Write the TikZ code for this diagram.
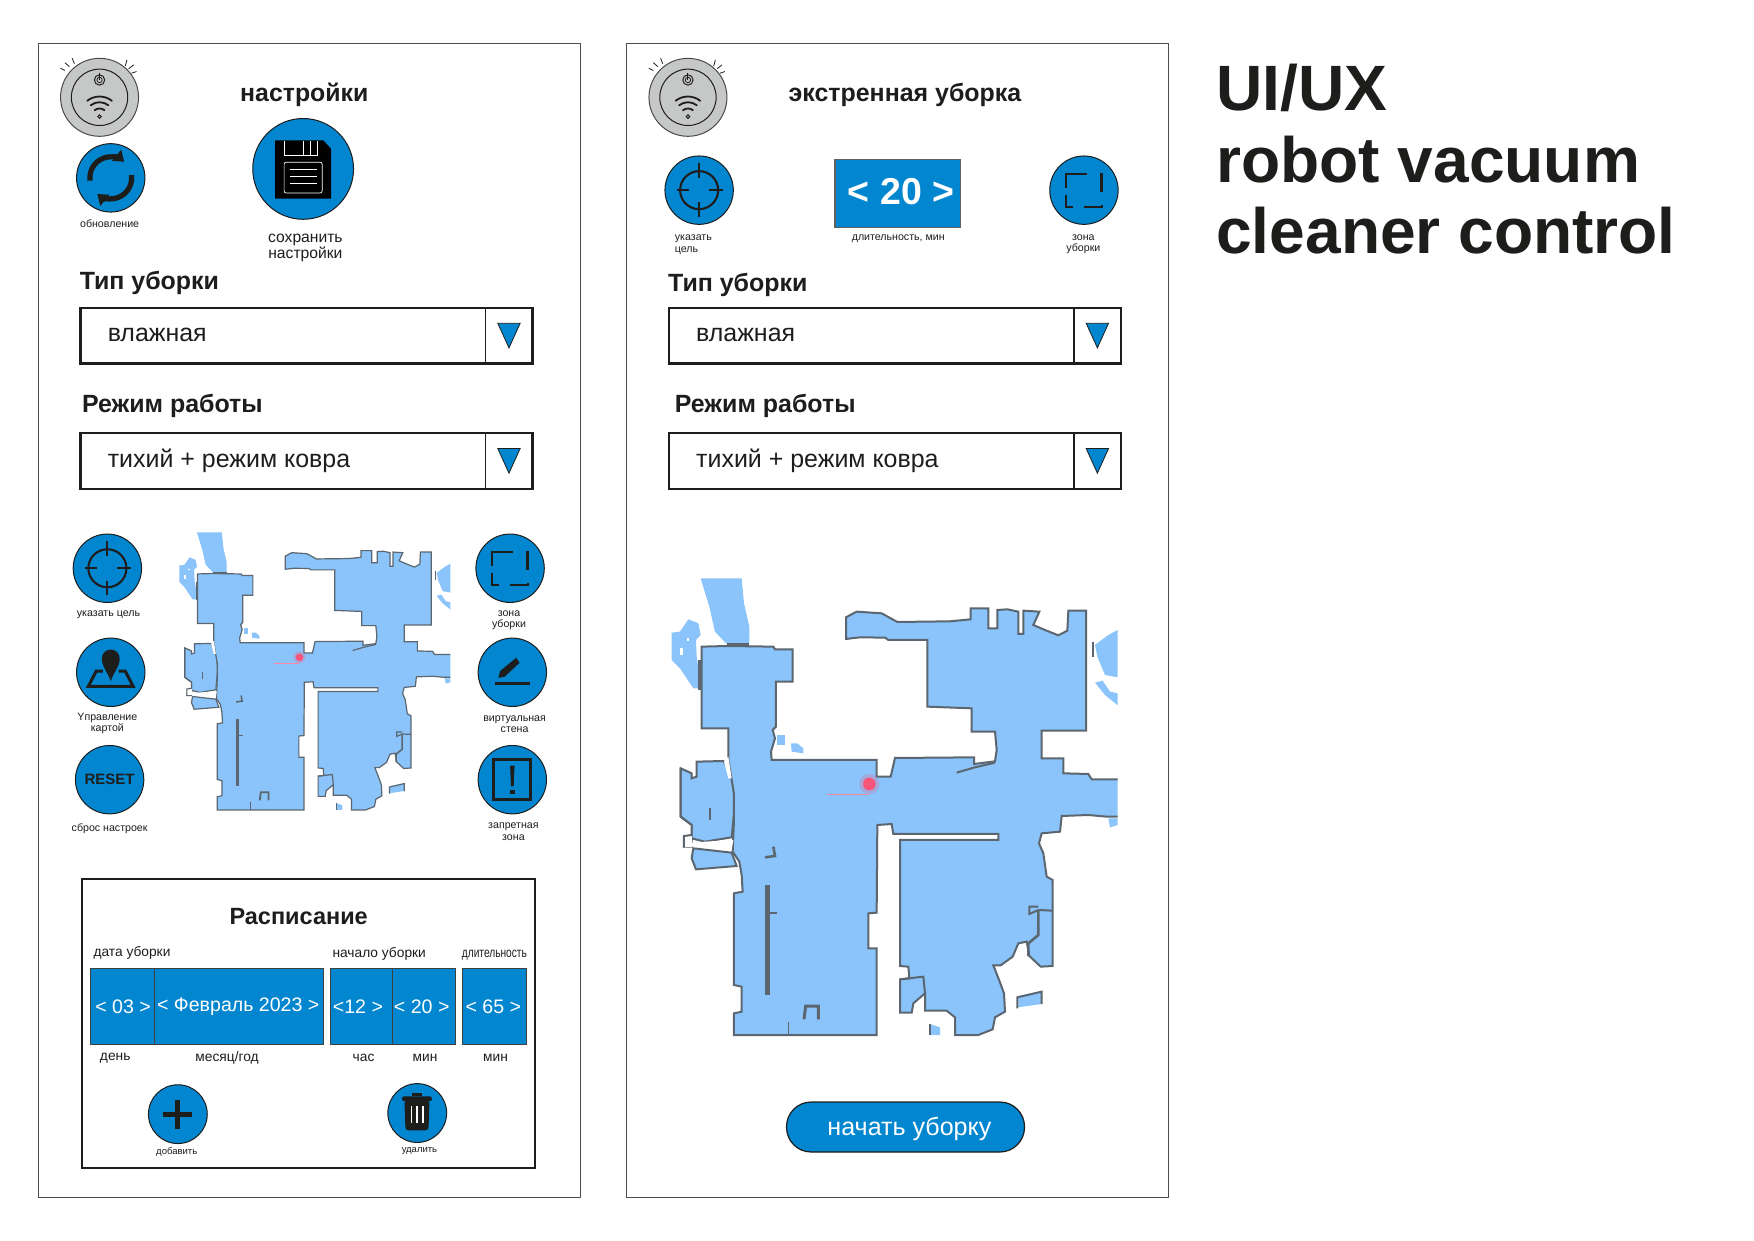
\documentclass[tikz,border=0pt]{standalone}
\usepackage{fontspec}
\usepackage{graphicx}
\setmainfont{Liberation Sans}
\usetikzlibrary{arrows.meta}
\definecolor{uiblue}{HTML}{0386D0}
\definecolor{ink}{HTML}{1D1D1B}
\definecolor{mapblue}{HTML}{8AC4FA}
\definecolor{mapwall}{HTML}{5B6670}
\definecolor{robogray}{HTML}{C6C8C8}
\definecolor{pinkdot}{HTML}{F8557A}
\newcommand\fsz[1]{\fontsize{\fpeval{#1*0.5594}}{\fpeval{#1*0.5594*1.07}}\selectfont}
\tikzset{
  ttl/.style={inner sep=0pt,text=ink,anchor=base west,font={\fsz{57.3}\bfseries}},
  lbl/.style={inner sep=0pt,text=ink,align=center,yshift=-0.9pt},
  small/.style={lbl,font={\fsz{9.5}}},
  mid/.style={lbl,font={\fsz{12.3}}},
  head/.style={lbl,anchor=west,font={\fsz{22.3}\bfseries}},
  val/.style={lbl,anchor=west,font={\fsz{22.3}}},
  spintxt/.style={lbl,text=white,font={\fsz{17.5}}},
  btn/.style={circle,draw=ink,fill=uiblue,line width=0.5pt,inner sep=0pt,minimum size=34.2pt},
  btnsmall/.style={btn,minimum size=29.4pt},
  btnbig/.style={btn,minimum size=50.4pt},
  robot/.style={circle,draw=ink!80,fill=robogray,line width=0.5pt,inner sep=0pt,minimum size=39pt},
  screen/.style={draw=black!70,fill=white,line width=0.7pt},
  ddbox/.style={draw=ink,fill=white,line width=1.1pt},
  spin/.style={draw=ink!85,fill=uiblue,line width=0.5pt,inner sep=0pt},
}
% icons ---------------------------------------------------------
\newcommand\iconrobot[1]{%
 \begin{scope}[shift={(#1.center)}]
  \draw[ink,line width=0.5pt] (0,0) circle[radius=25.2];
  \draw[ink,line width=0.5pt] (0,-15.5) circle[radius=4.6];
  \draw[ink,line width=0.4pt] (0,-15.5) circle[radius=2.4];
  \draw[ink,line width=0.5pt] (0,-22) -- (0,-15.5);
  \foreach \r in {17.9,12.8,7.2}{
    \draw[ink,line width=0.9pt,line cap=round] ([shift={(0,17.2)}]232:\r) arc[start angle=232,end angle=308,radius=\r];
  }
  \draw[ink,line width=0.5pt] (0,17.2) circle[radius=1.6];
  \draw[ink,line width=0.4pt] (-22.5,-30) -- (-24.5,-35);
  \draw[ink,line width=0.4pt] (-27,-27.5) -- (-31,-31);
  \draw[ink,line width=0.4pt] (-31,-24) -- (-35,-26);
  \draw[ink,line width=0.4pt] (23,-28) -- (24.5,-33.5);
  \draw[ink,line width=0.4pt] (26,-25.5) -- (30.5,-29);
  \draw[ink,line width=0.4pt] (28.5,-21.5) -- (33,-23);
 \end{scope}}
\newcommand\icontarget[1]{%
 \begin{scope}[shift={(#1.center)},ink,line width=1.05pt]
  \draw (0,0) circle[radius=17];
  \draw (0,-24) -- (0,-11); \draw (0,24) -- (0,11);
  \draw (-20,0) -- (-9,0); \draw (21,0) -- (9,0);
 \end{scope}}
\newcommand\iconzone[1]{%
 \begin{scope}[shift={(#1.center)},ink,line width=1.3pt]
  \draw (-16,-2) -- (-16,-14.5) -- (3,-14.5);
  \draw (15.5,-15) -- (15.5,2);
  \draw (-16,4) -- (-16,15) -- (-10,15);
  \draw (0,15) -- (16,15) -- (16,13);
 \end{scope}}
\newcommand\iconmap[1]{%
 \begin{scope}[shift={(#1.center)}]
  \draw[ink,line width=1.5pt,miter limit=4] (-7,-1) -- (-13,-1) -- (-20,12.5) -- (20,12.5) -- (13,-1) -- (7,-1);
  \fill[ink] (0,8) .. controls (-2,1) and (-8,-5) .. (-8,-12) .. controls (-8,-23) and (8,-23) .. (8,-12) .. controls (8,-5) and (2,1) .. (0,8) -- cycle;
 \end{scope}}
\newcommand\iconwall[1]{%
 \begin{scope}[shift={(#1.center)}]
  \fill[ink] (-15.5,8.5) rectangle (15.5,11.5);
  \fill[ink] (-12.5,5) -- (-11,-1) -- (3.5,-13) -- (6.5,-8.5) -- (-7,4) -- cycle;
 \end{scope}}
\newcommand\iconforbid[1]{%
 \begin{scope}[shift={(#1.center)}]
  \draw[ink,line width=1.5pt] (-16.5,-18) rectangle (16.5,18);
  \fill[ink] (-2,-12.5) -- (2,-12.5) -- (1.2,6) -- (-1.2,6) -- cycle;
  \fill[ink] (-2,9) rectangle (2,12.5);
 \end{scope}}
\newcommand\iconrefresh[1]{%
 \begin{scope}[shift={(#1.center)},ink,line width=2.6pt]
  \draw[-{Triangle[length=5pt,width=7pt]}] (-18.5,2.5) arc[start angle=172,end angle=310,radius=18.7];
  \draw[-{Triangle[length=5pt,width=7pt]}] (18.5,-2.5) arc[start angle=-8,end angle=130,radius=18.7];
 \end{scope}}
\newcommand\iconsave[1]{%
 \begin{scope}[shift={(#1.center)}]
  \fill[black] (-25,-25.5) -- (18,-25.5) -- (25,-18) -- (25,26.5) -- (-25,26.5) -- cycle;
  \begin{scope}[white,line width=0.35pt]
   \draw (-17,-25) -- (-17,-12) -- (13,-12) -- (13,-25);
   \draw (0,-25) -- (0,-12); \draw (6,-25) -- (6,-12);
   \draw[rounded corners=1pt] (-17,-6) rectangle (17,21.5);
   \draw (-12,0) -- (12,0); \draw (-12,6.5) -- (12,6.5); \draw (-12,13) -- (12,13);
  \end{scope}
 \end{scope}}
\newcommand\iconplus[1]{%
 \begin{scope}[shift={(#1.center)}]
  \fill[ink] (-13,-2.3) rectangle (13,2.3);
  \fill[ink] (-2.3,-13) rectangle (2.3,13);
 \end{scope}}
\newcommand\icontrash[1]{%
 \begin{scope}[shift={(#1.center)}]
  \fill[ink,rounded corners=1pt] (-13.5,-15) rectangle (13,-10.5);
  \fill[ink] (-4.5,-15) rectangle (4.5,-17.5);
  \fill[ink,rounded corners=1.5pt] (-11.5,-11) -- (11,-11) -- (10,15.5) -- (-10.5,15.5) -- cycle;
  \foreach \x in {-5.2,0,5.2}{\draw[white,line width=0.8pt] (\x,-6) -- (\x,9);}
 \end{scope}}
% map -----------------------------------------------------------
\newcommand\mapdrawing[4]{% ox, oy, unit in pt, wall width
 \begin{scope}[shift={(#1,#2)},x=#3,y=-#3]
 \clip (33,55) rectangle (1373,1432);
 % islands
 \fill[mapblue] (122,55) -- (245,55) -- (252,130) -- (268,200) -- (268,250) -- (198,250) -- (165,215) -- (148,140) -- cycle;
 \fill[mapblue] (35,218) -- (60,215) -- (85,178) -- (115,190) -- (122,225) -- (108,240) -- (110,290) -- (125,385) -- (100,385) -- (60,325) -- (35,300) -- cycle;
 \fill[mapblue] (1305,255) -- (1345,225) -- (1373,210) -- (1373,352) -- (1335,345) -- (1312,290) -- cycle;
 \fill[mapblue] (1305,368) -- (1328,362) -- (1350,395) -- (1373,400) -- (1373,436) -- (1335,405) -- cycle;
 \fill[mapblue] (352,525) rectangle (375,555);
 \fill[mapblue] (393,550) -- (412,550) -- (430,565) -- (430,580) -- (395,575) -- cycle;
 \fill[mapblue] (1075,1308) -- (1145,1293) -- (1145,1332) -- (1075,1342) -- cycle;
 \fill[mapblue] (810,1392) -- (840,1402) -- (840,1425) -- (810,1425) -- cycle;
 \fill[mapblue] (1345,775) -- (1373,775) -- (1373,795) -- (1350,802) -- cycle;
 \fill[white] (60,265) rectangle (68,285);
 \fill[white] (80,235) rectangle (86,242);
 % left rooms
 \filldraw[fill=mapblue,draw=mapwall,line width=#4] (62,625) -- (95,640) -- (95,655) -- (110,650) -- (110,605) -- (190,603) -- (215,640) -- (225,730) -- (215,832) -- (135,845) -- (75,830) -- (72,860) -- (95,860) -- (95,795) -- (62,770) -- cycle;
 \fill[white] (95,795) rectangle (72,860);
 \draw[mapwall,line width=#4] (62,625) -- (62,770) -- (95,795) -- (95,825) -- (72,828) -- (72,862);
 \draw[mapwall,line width=0.6*#4] (150,745) -- (150,780);
 \filldraw[fill=mapblue,draw=mapwall,line width=#4] (100,865) -- (215,878) -- (230,918) -- (108,928) -- (95,895) -- cycle;
 % main floor
 \filldraw[fill=mapblue,draw=mapwall,line width=#4,line join=miter]
  (125,260) -- (200,258) -- (340,260) -- (345,268) -- (398,268) -- (398,365) -- (348,365) -- (348,500) -- (338,510) -- (345,535) -- (333,575) -- (335,600) -- (650,600) -- (650,650) -- (692,650) -- (705,594) -- (942,592) -- (942,612) -- (1005,604) -- (1010,570) -- (1005,515) -- (935,515) -- (935,445) -- (802,440) -- (802,240) -- (685,240) -- (675,233) -- (600,232) -- (558,237) -- (558,172) -- (590,155) -- (665,160) -- (712,186) -- (870,184) -- (932,178) -- (932,145) -- (985,145) -- (985,205) -- (1012,205) -- (1012,150) -- (1042,148) -- (1075,155) -- (1075,222) -- (1090,222) -- (1090,152) -- (1138,155) -- (1120,195) -- (1150,208) -- (1195,226) -- (1222,212) -- (1225,152) -- (1278,152) -- (1278,512) -- (1145,512) -- (1145,595) -- (1210,595) -- (1210,640) -- (1285,642) -- (1295,658) -- (1395,658) -- (1395,770) -- (1340,770) -- (1285,765) -- (1205,768) -- (1200,815) -- (1145,820) -- (1137,850) -- (1150,880) -- (1160,950) -- (1178,960) -- (1178,1218) -- (1142,1220) -- (1108,1188) -- (1100,1145) -- (1075,1150) -- (1058,1190) -- (1022,1216) -- (1000,1216) -- (1018,1262) -- (1032,1300) -- (1035,1355) -- (1005,1372) -- (998,1408) -- (955,1425) -- (885,1425) -- (885,1372) -- (860,1352) -- (795,1352) -- (795,1300) -- (760,1330) -- (755,1358) -- (720,1358) -- (720,1258) -- (748,1255) -- (745,1220) -- (720,1218) -- (720,840) -- (1015,840) -- (1015,822) -- (700,822) -- (695,792) -- (652,795) -- (650,1058) -- (625,1060) -- (625,1165) -- (650,1165) -- (650,1425) -- (222,1425) -- (222,1360) -- (245,1355) -- (245,1280) -- (222,1275) -- (222,1000) -- (248,995) -- (245,945) -- (238,905) -- (218,875) -- (222,780) -- (222,700) -- (205,600) -- (205,505) -- (125,505) -- cycle;
 % white notches and interior walls
 \fill[white] (192,605) -- (205,590) -- (215,655) -- (205,655) -- cycle;
 \fill[white] (80,850) -- (135,845) -- (220,840) -- (215,870) -- (100,860) -- cycle;
 \draw[mapwall,line width=#4] (890,638) -- (945,622) -- (1005,608);
 \draw[mapwall,line width=2.2*#4] (322,975) -- (322,1305);
 \draw[mapwall,line width=#4] (326,1058) -- (350,1058);
 \draw[mapwall,line width=1.3*#4] (340,860) -- (345,888) -- (315,892);
 \draw[mapwall,line width=1.5*#4] (432,1378) -- (437,1338) -- (475,1338) -- (475,1378);
 \draw[mapwall,line width=0.8*#4] (385,1385) -- (385,1425);
 \draw[mapwall,line width=1.6*#4] (120,300) -- (120,390);
 \draw[mapwall,line width=1.6*#4] (200,253) -- (268,253);
 \draw[mapwall,line width=#4] (1300,245) -- (1300,290);
 \draw[mapwall,line width=#4] (1135,1040) -- (1108,1040) -- (1108,1062) -- (1135,1050);
 \draw[mapwall,line width=#4] (1135,1050) -- (1178,1052);
 \draw[mapwall,line width=1.3*#4] (1135,1050) -- (1135,1125) -- (1105,1150) -- (1105,1188);
 \draw[mapwall,line width=#4] (1072,1345) -- (1072,1312) -- (1145,1295) -- (1145,1332);
 \draw[mapwall,line width=#4] (810,1425) -- (810,1392);
 \draw[mapwall,line width=#4] (720,1258) -- (790,1250) -- (795,1300);
 % robot marker
 \fill[pinkdot,opacity=0.25] (628,672) circle[radius=30];
 \fill[pinkdot] (628,672) circle[radius=19];
 \draw[pinkdot!70,line width=0.3pt] (500,703) -- (628,703);
 \end{scope}}
\begin{document}
\begin{tikzpicture}[x=0.5594pt,y=-0.5594pt]
\useasboundingbox (0,0) rectangle (1568,1109.4);
\fill[white] (0,0) rectangle (1568,1109.4);
% screens
\node[screen,draw,minimum width=271pt,minimum height=577pt,inner sep=0pt,anchor=north west] (scrA) at (33.6,38.4) {};
\node[screen,draw,minimum width=271pt,minimum height=577pt,inner sep=0pt,anchor=north west] (scrB) at (559.6,38.4) {};
% title
\node[ttl] (ttlA) at (1087,99) {UI/UX};
\node[ttl] (ttlB) at (1087,163) {robot vacuum};
\node[ttl] (ttlC) at (1087,227) {cleaner control};
% ---------- screen A top
\node[robot] (robA) at (89,87) {}; \iconrobot{robA}
\node[lbl,font={\fsz{22.2}\bfseries}] (setT) at (272,83) {настройки};
\node[btn] (refr) at (99,159) {}; \iconrefresh{refr}
\node[small] (refrL) at (98,198.5) {обновление};
\node[btnbig] (save) at (271,151) {}; \iconsave{save}
\node[lbl,font={\fsz{14}}] (saveL) at (273,220) {сохранить\\настройки};
\node[head] (typA) at (71,251) {Тип уборки};
\draw[ddbox] (72,275) rectangle (476,325);
\draw[ink,line width=0.9pt] (434,275) -- (434,325);
\draw[ink,line width=0.4pt,fill=uiblue] (445,289) -- (465,289) -- (455,311) -- cycle;
\node[val] (typAv) at (96,298) {влажная};
\node[head] (modA) at (73,361) {Режим работы};
\draw[ddbox] (72,387) rectangle (476,437);
\draw[ink,line width=0.9pt] (434,387) -- (434,437);
\draw[ink,line width=0.4pt,fill=uiblue] (445,401) -- (465,401) -- (455,423) -- cycle;
\node[val] (modAv) at (96,410) {тихий + режим ковра};
% ---------- map A
\mapdrawing{154}{466}{0.1013pt}{0.6pt}
\node[btn] (tgtA) at (96,508) {}; \icontarget{tgtA}
\node[small] (tgtAL) at (97,548) {указать цель};
\node[btn] (mapB) at (99,601) {}; \iconmap{mapB}
\node[small] (mapBL) at (96,645) {Yправление\\картой};
\node[btn] (rst) at (98,697) {};
\node[inner sep=0pt,text=ink,font={\fsz{13.4}\bfseries}] (rstT) at (98,697) {RESET};
\node[small] (rstL) at (98,739) {сброс настроек};
\node[btn] (zonA) at (456,508) {}; \iconzone{zonA}
\node[small] (zonAL) at (455,553) {зона\\уборки};
\node[btn] (wall) at (458,601) {}; \iconwall{wall}
\node[small] (wallL) at (460,646) {виртуальная\\стена};
\node[btn] (forb) at (458,697) {}; \iconforbid{forb}
\node[small] (forbL) at (459,742) {запретная\\зона};
% ---------- schedule
\node[draw=ink,fill=white,line width=0.7pt,inner sep=0pt,anchor=north west,minimum width=226.6pt,minimum height=144.6pt] (sched) at (72.5,785) {};
\node[inner sep=0pt,text=ink,font={\fsz{21}\bfseries}] (schedT) at (267,819) {Расписание};
\node[mid] (dateL) at (118,850) {дата уборки};
\node[mid] (startL) at (339,851) {начало уборки};
\node[mid] (durL) at (442,852) {\scalebox{0.74}[1]{длительность}};
\node[spin,minimum width=32.2pt,minimum height=38pt] (bD) at (109.3,900) {};
\node[spin,minimum width=84.5pt,minimum height=38pt] (bM) at (213.5,900) {};
\node[spin,minimum width=31.3pt,minimum height=38pt] (bH) at (323,900) {};
\node[spin,minimum width=31.3pt,minimum height=38pt] (bN) at (379,900) {};
\node[spin,minimum width=32.4pt,minimum height=38pt] (bL) at (442,900) {};
\node[spintxt] (bDt) at (110,898) {< 03 >};
\node[spintxt] (bMt) at (213,898) {< Февраль 2023 >};
\node[spintxt] (bHt) at (320,898) {<12 >};
\node[spintxt] (bNt) at (377,898) {< 20 >};
\node[spintxt] (bLt) at (441,898) {< 65 >};
\node[mid] (dD) at (103,944) {день};
\node[mid] (dM) at (203,944) {месяц/год};
\node[mid] (dH) at (325,944) {час};
\node[mid] (dN) at (380,944) {мин};
\node[mid] (dL) at (443,944) {мин};
\node[btnsmall] (add) at (159,996) {}; \iconplus{add}
\node[lbl,font={\fsz{8.5}}] (addL) at (158,1028) {добавить};
\node[btnsmall] (del) at (373,995) {}; \icontrash{del}
\node[lbl,font={\fsz{8.5}}] (delL) at (375,1027) {удалить};
% ---------- screen B
\node[robot] (robB) at (615,87) {}; \iconrobot{robB}
\node[lbl,font={\fsz{22.3}\bfseries}] (emgT) at (809,83) {экстренная уборка};
\node[btn] (tgtB) at (625,170) {}; \icontarget{tgtB}
\node[small,align=left,anchor=west] (tgtBL) at (603,217) {указать\\цель};
\node[draw=ink!70,fill=uiblue,line width=0.7pt,inner sep=0pt,minimum width=62.6pt,minimum height=34.2pt] (dur) at (802.5,173) {};
\node[inner sep=0pt,text=white,font={\fsz{33.5}\bfseries}] (durT) at (805.5,171) {< 20 >};
\node[small] (durBL) at (803,212) {длительность, мин};
\node[btn] (zonB) at (969,170) {}; \iconzone{zonB}
\node[small] (zonBL) at (968.5,217) {зона\\уборки};
\node[head] (typB) at (597,253) {Тип уборки};
\draw[ddbox] (598,275) rectangle (1002,325);
\draw[ink,line width=0.9pt] (960,275) -- (960,325);
\draw[ink,line width=0.4pt,fill=uiblue] (971,289) -- (991,289) -- (981,311) -- cycle;
\node[val] (typBv) at (622,298) {влажная};
\node[head] (modB) at (603,361.5) {Режим работы};
\draw[ddbox] (598,387) rectangle (1002,437);
\draw[ink,line width=0.9pt] (960,387) -- (960,437);
\draw[ink,line width=0.4pt,fill=uiblue] (971,401) -- (991,401) -- (981,423) -- cycle;
\node[val] (modBv) at (622,410) {тихий + режим ковра};
\mapdrawing{590}{500.6}{0.1667pt}{1pt}
\node[draw=ink,fill=uiblue,line width=0.6pt,rounded corners=12.3pt,inner sep=0pt,minimum width=119pt,minimum height=25pt] (go) at (809.5,1007.5) {};
\node[lbl,text=white,font={\fsz{22.4}}] (goT) at (813,1008) {начать уборку};
\end{tikzpicture}
\end{document}
